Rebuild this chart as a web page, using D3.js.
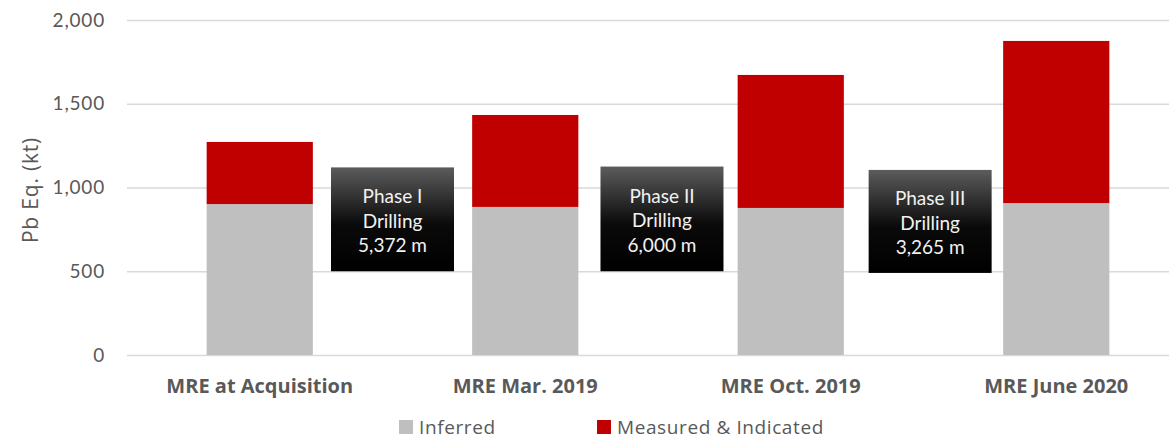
<!DOCTYPE html>
<html>
<head>
<meta charset="utf-8">
<script src="https://cdn.jsdelivr.net/npm/d3@7"></script>
<style>
  body { margin: 0; background: #fff; }
  text { font-family: Lato, "Open Sans", sans-serif; }
</style>
</head>
<body>
<svg width="1169" height="439"></svg>
<script>
// chart data
var categories = ["MRE at Acquisition", "MRE Mar. 2019", "MRE Oct. 2019", "MRE June 2020"];
var inferred = [901, 884, 878, 907];
var measured = [371, 549, 794, 968]; // measured & indicated, stacked on top
var yTicks = [0, 500, 1000, 1500, 2000];

// drilling phase callouts, sit between the bars (position in category index units)
var phaseLines = [["Phase I", "Drilling", "5,372 m"], ["Phase II", "Drilling", "6,000 m"], ["Phase III", "Drilling", "3,265 m"]];
var phasePos = [0.5, 1.515, 2.525];
var phaseTop = [1120, 1125, 1105];
var phaseBottom = [500, 500, 490];

var svg = d3.select("svg");

var x = d3.scaleBand().domain(categories).range([127, 1189]).paddingInner(0.6).paddingOuter(0.3);
var y = d3.scaleLinear().domain([0, 2000]).range([355, 20]);
var xi = d3.scaleLinear().domain([0, 3])
  .range([x(categories[0]) + x.bandwidth() / 2, x(categories[3]) + x.bandwidth() / 2]);

// gradient for the phase boxes
var grad = svg.append("defs").append("linearGradient")
  .attr("id", "boxgrad").attr("x1", 0).attr("y1", 0).attr("x2", 0).attr("y2", 1);
grad.append("stop").attr("offset", "0%").attr("stop-color", "#5c5c5c");
grad.append("stop").attr("offset", "55%").attr("stop-color", "#0a0a0a");
grad.append("stop").attr("offset", "100%").attr("stop-color", "#000");

// gridlines + y labels
var yAxis = d3.axisLeft(y).tickValues(yTicks).tickSize(-1060).tickFormat(d3.format(","));
var ga = svg.append("g").attr("transform", "translate(127,0)").call(yAxis);
ga.select(".domain").remove();
ga.selectAll(".tick line").attr("stroke", "#d9d9d9").attr("stroke-width", 1.5);
ga.selectAll(".tick text").attr("x", -22).attr("fill", "#595959")
  .style("font-size", "19px").style("letter-spacing", "0.8px")
  .style("font-family", "Lato, sans-serif");

svg.append("text")
  .attr("transform", "translate(38,190) rotate(-90)")
  .attr("text-anchor", "middle")
  .attr("fill", "#595959")
  .style("font-size", "21px")
  .style("letter-spacing", "0.8px")
  .style("font-family", "'Open Sans', sans-serif")
  .text("Pb Eq. (kt)");

// stacked bars
svg.selectAll("rect.inf").data(categories).enter().append("rect")
  .attr("class", "inf")
  .attr("x", function(d) { return x(d); })
  .attr("width", x.bandwidth())
  .attr("y", function(d, i) { return y(inferred[i]); })
  .attr("height", function(d, i) { return y(0) - y(inferred[i]); })
  .attr("fill", "#bfbfbf");

svg.selectAll("rect.mi").data(categories).enter().append("rect")
  .attr("class", "mi")
  .attr("x", function(d) { return x(d); })
  .attr("width", x.bandwidth())
  .attr("y", function(d, i) { return y(inferred[i] + measured[i]); })
  .attr("height", function(d, i) { return y(inferred[i]) - y(inferred[i] + measured[i]); })
  .attr("fill", "#c00000");

// category labels
svg.selectAll("text.cat").data(categories).enter().append("text")
  .attr("class", "cat")
  .attr("x", function(d) { return x(d) + x.bandwidth() / 2; })
  .attr("y", 393)
  .attr("text-anchor", "middle")
  .attr("fill", "#595959")
  .style("font-size", "20px")
  .style("font-weight", "bold")
  .style("font-family", "'Open Sans', sans-serif")
  .text(function(d) { return d; });

// phase boxes
var boxW = 123;
var phases = svg.selectAll("g.phase").data(phaseLines).enter().append("g").attr("class", "phase")
  .attr("transform", function(d, i) {
    return "translate(" + (xi(phasePos[i]) - boxW / 2) + "," + y(phaseTop[i]) + ")";
  });
phases.append("rect")
  .attr("width", boxW)
  .attr("height", function(d, i) { return y(phaseBottom[i]) - y(phaseTop[i]); })
  .attr("fill", "url(#boxgrad)");
phases.each(function(lines, i) {
  var h = y(phaseBottom[i]) - y(phaseTop[i]);
  d3.select(this).selectAll("text").data(lines).enter().append("text")
    .attr("x", boxW / 2)
    .attr("y", function(t, j) { return h / 2 - 16 + j * 24.5; })
    .attr("text-anchor", "middle")
    .attr("fill", "#f2f2f2")
    .style("font-size", "19px")
    .text(function(t) { return t; });
});

// legend
var legend = [["Inferred", "#bfbfbf", 399], ["Measured & Indicated", "#c00000", 597]];
var lg = svg.selectAll("g.leg").data(legend).enter().append("g").attr("class", "leg")
  .attr("transform", function(d) { return "translate(" + d[2] + ",420)"; });
lg.append("rect").attr("width", 14).attr("height", 14).attr("fill", function(d) { return d[1]; });
lg.append("text").attr("x", 20).attr("y", 13.5)
  .attr("fill", "#595959").style("font-size", "19px").style("letter-spacing", "0.6px")
  .style("font-family", "'Open Sans', sans-serif")
  .text(function(d) { return d[0]; });
</script>
</body>
</html>
